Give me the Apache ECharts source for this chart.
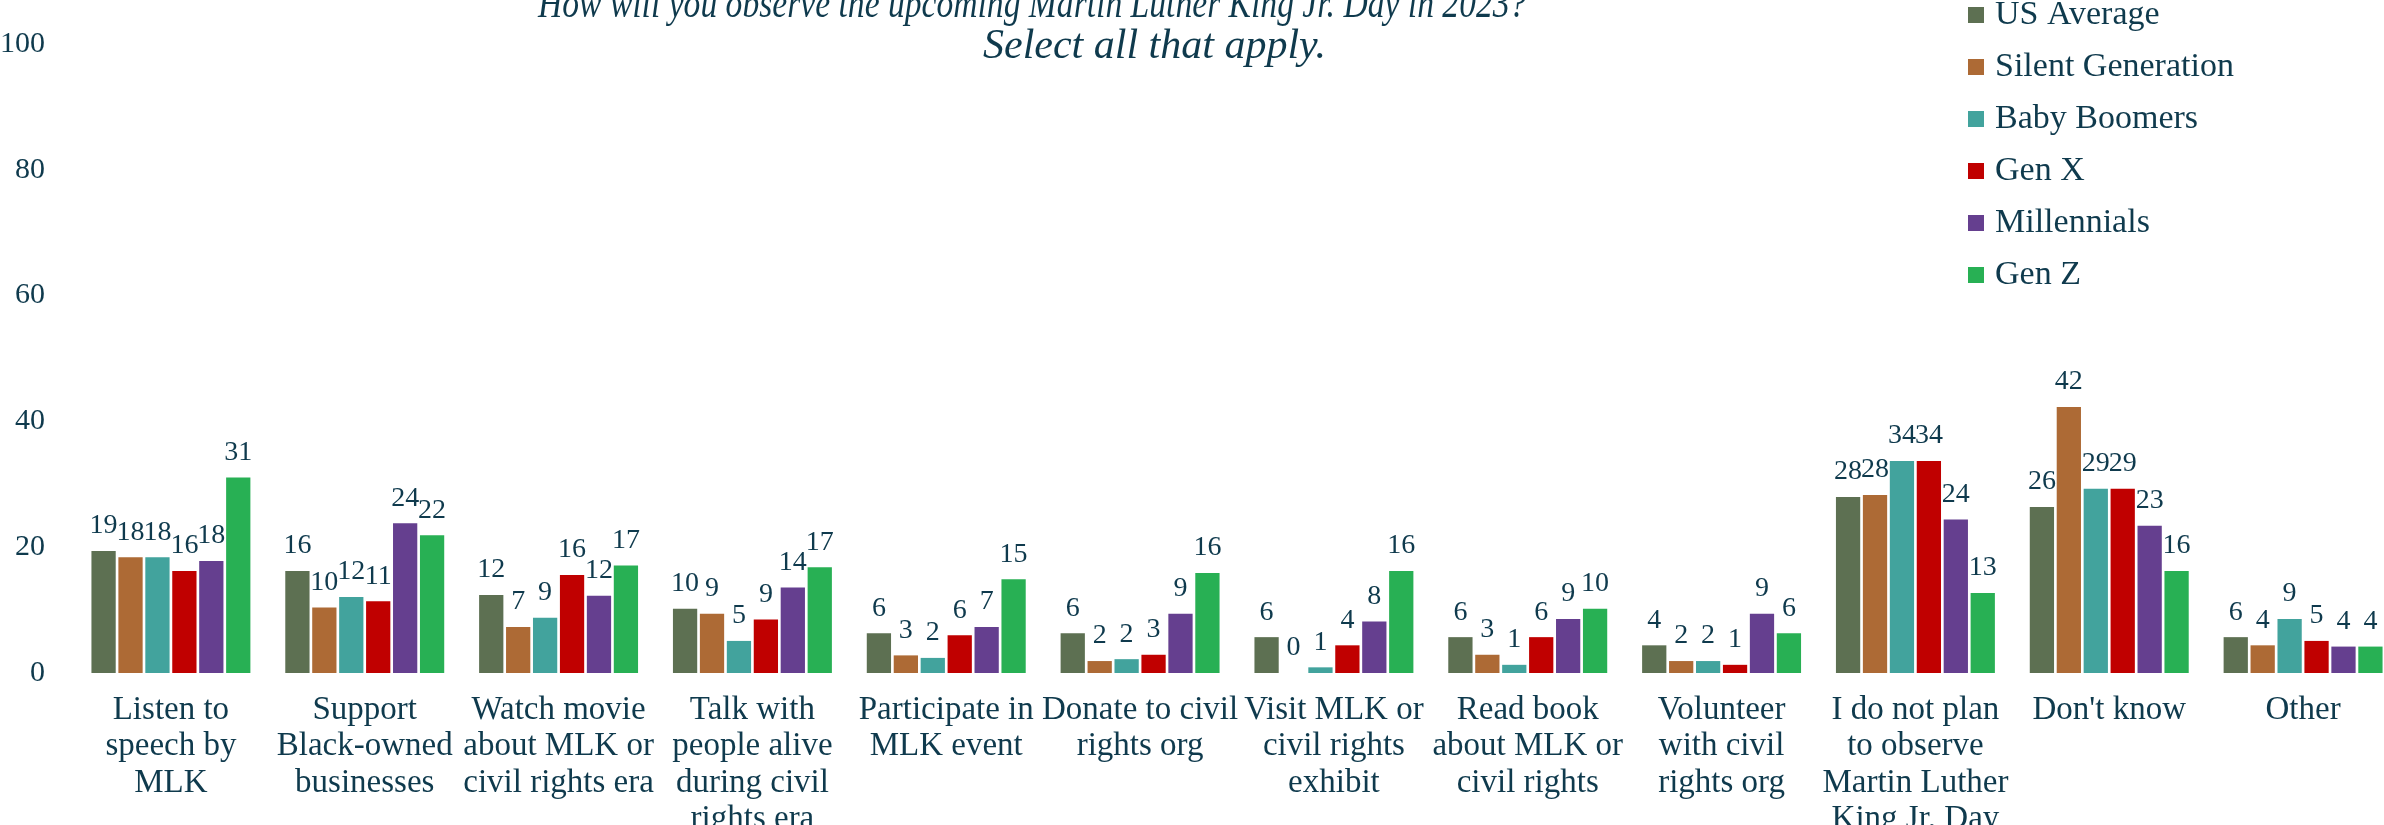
<!DOCTYPE html>
<html>
<head>
<meta charset="utf-8">
<script src="https://cdn.jsdelivr.net/npm/echarts@6/dist/echarts.min.js"></script>
<style>
  html, body { margin: 0; padding: 0; background: #fff; }
  #main { width: 2384px; height: 825px; }
</style>
</head>
<body>
<div id="main"></div>
<script>
// 数据
const categories = [
  'Listen to\nspeech by\nMLK',
  'Support\nBlack-owned\nbusinesses',
  'Watch movie\nabout MLK or\ncivil rights era',
  'Talk with\npeople alive\nduring civil\nrights era',
  'Participate in\nMLK event',
  'Donate to civil\nrights org',
  'Visit MLK or\ncivil rights\nexhibit',
  'Read book\nabout MLK or\ncivil rights',
  'Volunteer\nwith civil\nrights org',
  'I do not plan\nto observe\nMartin Luther\nKing Jr. Day',
  "Don't know",
  'Other'
]
const seriesNames = ['US Average', 'Silent Generation', 'Baby Boomers', 'Gen X', 'Millennials', 'Gen Z']
const usAverage = [19.4, 16.2, 12.4, 10.2, 6.3, 6.3, 5.7, 5.7, 4.4, 28.0, 26.4, 5.7]
const silentGen = [18.4, 10.4, 7.3, 9.4, 2.8, 1.9, 0, 2.9, 1.9, 28.3, 42.3, 4.4]
const babyBoomers = [18.4, 12.1, 8.8, 5.1, 2.4, 2.2, 0.9, 1.3, 1.9, 33.7, 29.3, 8.6]
const genX = [16.2, 11.4, 15.6, 8.5, 6.0, 2.9, 4.4, 5.7, 1.3, 33.7, 29.3, 5.1]
const millennials = [17.8, 23.8, 12.3, 13.6, 7.3, 9.4, 8.2, 8.6, 9.4, 24.4, 23.4, 4.2]
const genZ = [31.1, 21.9, 17.1, 16.8, 14.9, 15.9, 16.2, 10.2, 6.3, 12.7, 16.2, 4.2]
const yTicks = [0, 20, 40, 60, 80, 100]
const titleLines = [
  'How will you observe the upcoming Martin Luther King Jr. Day in 2023?',
  'Select all that apply.'
]

const colors = ['#5d7052', '#ad6a35', '#42a39d', '#c00000', '#653f8f', '#28b054']
const textColor = '#0f3a4d'
const serif = '"Liberation Serif", "DejaVu Serif", serif'

const allValues = [usAverage, silentGen, babyBoomers, genX, millennials, genZ]

const myChart = echarts.init(document.getElementById('main'))

myChart.setOption({
  animation: false,
  color: colors,
  // 标题两行，第一行比较窄
  graphic: [
    {
      type: 'text', x: 538, y: -15, scaleX: 0.8,
      style: {
        text: titleLines[0], fill: textColor,
        font: 'italic 42px ' + serif, textVerticalAlign: 'top', lineHeight: 42
      }
    },
    {
      type: 'text', x: 983, y: 26,
      style: {
        text: titleLines[1], fill: textColor,
        font: 'italic 42px ' + serif, textVerticalAlign: 'top', lineHeight: 42
      }
    }
  ],
  legend: {
    data: seriesNames,
    orient: 'vertical',
    left: 1968, top: -2,
    padding: 0,
    icon: 'rect',
    itemWidth: 16, itemHeight: 16,
    itemGap: 18,
    textStyle: { fontFamily: serif, fontSize: 34, lineHeight: 33, color: textColor, padding: [0, 0, 0, 6] }
  },
  grid: { left: 74, top: 44, bottom: 152, width: 2326, outerBoundsMode: 'none' },
  xAxis: {
    type: 'category',
    data: categories,
    axisLine: { show: false },
    axisTick: { show: false },
    axisLabel: {
      interval: 0, margin: 19,
      fontFamily: serif, fontSize: 33, lineHeight: 36.5, color: textColor
    }
  },
  yAxis: {
    type: 'value',
    min: yTicks[0], max: yTicks[yTicks.length - 1], interval: 20,
    splitLine: { show: false },
    axisLine: { show: false },
    axisTick: { show: false },
    axisLabel: { margin: 29, fontFamily: serif, fontSize: 30, color: textColor }
  },
  series: seriesNames.map((name, i) => ({
    name,
    type: 'bar',
    data: allValues[i],
    barCategoryGap: '18%',
    barGap: '11%',
    label: {
      show: true,
      position: 'top',
      distance: 11,
      fontFamily: serif, fontSize: 28, lineHeight: 28, color: textColor,
      formatter: p => Math.round(p.value)
    }
  }))
})
</script>
</body>
</html>
